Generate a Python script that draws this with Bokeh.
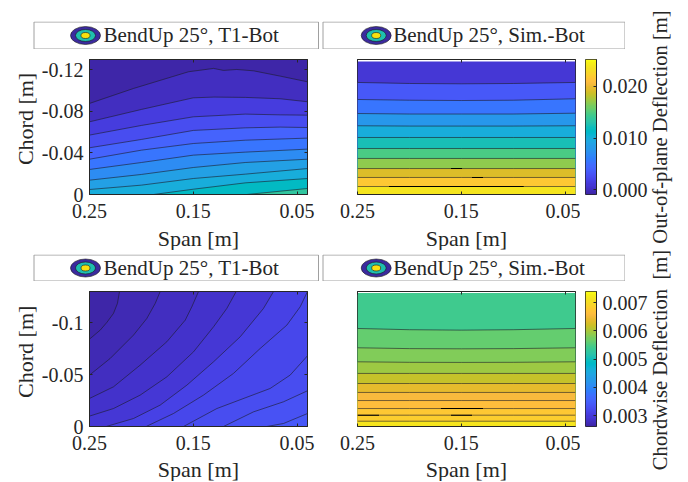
import math
import numpy as np
from bokeh.plotting import figure
from bokeh.layouts import row, column
from bokeh.models import Range1d, FixedTicker, LinearAxis, LinearColorMapper, Spacer, ColumnDataSource
from bokeh.core.properties import value
from bokeh.embed import file_html
from bokeh.resources import INLINE

PARULA_RGB = [[0.2422,0.1504,0.6603],[0.2504,0.1650,0.7076],[0.2578,0.1818,0.7511],[0.2647,0.1978,0.7952],[0.2706,0.2147,0.8364],[0.2751,0.2342,0.8710],[0.2783,0.2559,0.8991],[0.2803,0.2782,0.9221],[0.2813,0.3006,0.9414],[0.2810,0.3228,0.9579],[0.2795,0.3447,0.9717],[0.2760,0.3667,0.9829],[0.2699,0.3892,0.9906],[0.2602,0.4123,0.9952],[0.2440,0.4358,0.9988],[0.2206,0.4603,0.9973],[0.1963,0.4847,0.9892],[0.1834,0.5074,0.9798],[0.1786,0.5289,0.9682],[0.1764,0.5499,0.9520],[0.1687,0.5703,0.9359],[0.1540,0.5902,0.9218],[0.1460,0.6091,0.9079],[0.1380,0.6276,0.8973],[0.1248,0.6459,0.8883],[0.1113,0.6635,0.8763],[0.0952,0.6798,0.8598],[0.0689,0.6948,0.8394],[0.0297,0.7082,0.8163],[0.0036,0.7203,0.7917],[0.0067,0.7312,0.7660],[0.0433,0.7411,0.7394],[0.0964,0.7500,0.7120],[0.1408,0.7584,0.6842],[0.1717,0.7670,0.6554],[0.1938,0.7758,0.6251],[0.2161,0.7843,0.5923],[0.2470,0.7918,0.5567],[0.2906,0.7973,0.5188],[0.3406,0.8008,0.4789],[0.3909,0.8029,0.4354],[0.4456,0.8024,0.3909],[0.5044,0.7993,0.3480],[0.5616,0.7942,0.3045],[0.6174,0.7876,0.2612],[0.6720,0.7793,0.2227],[0.7242,0.7698,0.1910],[0.7738,0.7598,0.1646],[0.8203,0.7498,0.1535],[0.8634,0.7406,0.1596],[0.9035,0.7330,0.1774],[0.9393,0.7288,0.2100],[0.9728,0.7312,0.2394],[0.9956,0.7434,0.2371],[0.9970,0.7659,0.2199],[0.9952,0.7861,0.1994],[0.9892,0.8086,0.1816],[0.9786,0.8303,0.1653],[0.9676,0.8528,0.1500],[0.9610,0.8742,0.1344],[0.9597,0.8969,0.1186],[0.9628,0.9199,0.0971],[0.9691,0.9436,0.0759],[0.9769,0.9839,0.0805]]
PALETTE = ["#%02x%02x%02x" % tuple(int(round(c * 255)) for c in rgb) for rgb in PARULA_RGB]

SPAN_TICKS = [0.25, 0.15, 0.05]
SPAN_LABELS = ["0.25", "0.15", "0.05"]
CHORD1_TICKS = [-0.12, -0.08, -0.04, 0]
CHORD1_LABELS = ["-0.12", "-0.08", "-0.04", "0"]
CHORD2_TICKS = [-0.1, -0.05, 0]
CHORD2_LABELS = ["-0.1", "-0.05", "0"]
CB1_TICKS = [0.0, 0.01, 0.02]
CB1_LABELS = ["0.000", "0.010", "0.020"]
CB2_TICKS = [0.003, 0.004, 0.005, 0.006, 0.007]
CB2_LABELS = ["0.003", "0.004", "0.005", "0.006", "0.007"]
CB1_RANGE = (-0.0009, 0.0252)
CB2_RANGE = (0.00261, 0.0074)

# Each contour: spans, chord magnitudes
P1_LINES = [
    ([.25,.2076,.1546,.1305,.1209,.1081,.0920,.0663,.04], [.0877,.1021,.1182,.1214,.1195,.1204,.1191,.1140,.1085]),
    ([.25,.20,.15,.13,.10,.0663,.04], [.0700,.0819,.0931,.0938,.0935,.0922,.0893]),
    ([.25,.20,.15,.10,.0663,.04], [.0572,.0665,.0748,.0774,.0767,.0764]),
    ([.25,.20,.15,.10,.0663,.04], [.0450,.0530,.0617,.0642,.0649,.0645]),
    ([.25,.20,.15,.10,.04], [.0340,.0427,.0491,.0523,.0543]),
    ([.25,.20,.15,.10,.04], [.0241,.0308,.0379,.0408,.0437]),
    ([.25,.20,.15,.10,.04], [.0138,.0193,.0260,.0308,.0340]),
    ([.25,.20,.15,.10,.04], [.0048,.0090,.0154,.0196,.0250]),
    ([.1883,.15,.10,.04], [0,.0051,.0112,.0154]),
    ([.0984,.04], [0,.0058]),
]
P1_LEVELS = [-0.0008,0.0002,0.0014,0.0026,0.0041,0.0056,0.0069,0.0085,0.0101,0.0116,0.0135]

P2_SPANS = [.25,.20,.15,.10,.04]
P2_LINES = [
    (P2_SPANS, [.1079,.1069,.1066,.1069,.1079]),
    (P2_SPANS, [.0915,.0908,.0905,.0908,.0922]),
    (P2_SPANS, [.0780,.0775,.0775,.0775,.0783]),
    (P2_SPANS, [.0662,.0659,.0659,.0659,.0662]),
    (P2_SPANS, [.0549,.0549,.0549,.0549,.0549]),
    (P2_SPANS, [.0443,.0443,.0443,.0443,.0443]),
    (P2_SPANS, [.0347,.0347,.0347,.0347,.0347]),
    (P2_SPANS, [.0250,.0250,.0250,.0250,.0250]),
    (P2_SPANS, [.0164,.0164,.0164,.0164,.0164]),
    (P2_SPANS, [.0077,.0077,.0077,.0077,.0077]),
]
P2_LEVELS = [0.0009,0.0032,0.0055,0.0078,0.0101,0.0124,0.0147,0.0170,0.0193,0.0216,0.0239]
P2_TOP = .1281
P2_SEG = ([.1599,.1397,.2197], [.1493,.1291,.0899], [.0250,.0164,.0077])

P3_LINES = [
    ([.25,.2397,.2333,.2269,.2231,.2211], [.0841,.0928,.1002,.1089,.1185,.13]),
    ([.25,.2301,.2076,.1948,.1867,.1819], [.0495,.0655,.0880,.1040,.1185,.13]),
    ([.25,.2269,.2012,.1755,.1578,.1514,.1450], [.0270,.0382,.0591,.0816,.1024,.1153,.13]),
    ([.25,.2269,.2012,.1755,.1498,.1305,.1177,.1087], [.0100,.0173,.0302,.0478,.0719,.0960,.1137,.13]),
    ([.2339,.2076,.1819,.1562,.1305,.1048,.0824,.0727], [0,.0077,.0206,.0398,.0623,.0864,.1137,.13]),
    ([.1954,.1691,.1402,.1113,.0856,.0599,.0470,.04], [0,.0125,.0302,.0511,.0751,.0976,.1153,.13]),
    ([.1594,.1273,.0888,.0760,.0567,.04], [0,.0173,.0318,.0366,.0495,.0681]),
    ([.1209,.0920,.0631,.04], [0,.0141,.0238,.0344]),
    ([.0792,.0631,.04], [0,.0029,.0125]),
]
P3_LEVELS = [0.00266,0.00274,0.00282,0.00290,0.00298,0.00306,0.00314,0.00322,0.00330,0.00338]

P4_LINES = [
    (P2_SPANS, [.0944,.0932,.0928,.0932,.0944]),
    (P2_SPANS, [.0758,.0750,.0748,.0750,.0758]),
    (P2_SPANS, [.0623,.0618,.0617,.0618,.0623]),
    (P2_SPANS, [.0511,.0511,.0511,.0511,.0511]),
    (P2_SPANS, [.0414,.0414,.0414,.0414,.0414]),
    (P2_SPANS, [.0328,.0328,.0328,.0328,.0328]),
    (P2_SPANS, [.0250,.0250,.0250,.0250,.0250]),
    (P2_SPANS, [.0173,.0173,.0173,.0173,.0173]),
    (P2_SPANS, [.0109,.0109,.0109,.0109,.0109]),
    (P2_SPANS, [.0051,.0051,.0051,.0051,.0051]),
]
P4_LEVELS = [0.00542,0.00565,0.00580,0.00596,0.00620,0.00637,0.00656,0.00663,0.00680,0.00687,0.00714]
P4_TOP = .1285
P4_SEG = ([.1696,.25,.1599], [.1291,.2293,.1397], [.0173,.0109,.0109])

LEGEND_T1 = "BendUp 25°, T1-Bot"
LEGEND_SIM = "BendUp 25°, Sim.-Bot"
SPAN_TITLE = "Span [m]"
CHORD_TITLE = "Chord [m]"
CB1_TITLE = "Out-of-plane Deflection [m]"
CB2_TITLE = "Chordwise Deflection\u00a0\u2009[m]"

FONT = "Liberation Serif"
INK = "#262626"
XR = (0.25, 0.04)
CHORD_TOP = 0.13
BOTTOM = 32


def style_axis(ax, ticks, labels, size="20px"):
    ax.ticker = FixedTicker(ticks=ticks)
    ax.major_label_overrides = dict(zip(ticks, labels))
    ax.major_tick_in = 3
    ax.major_tick_out = 0
    ax.minor_tick_in = 0
    ax.minor_tick_out = 0
    ax.major_tick_line_color = INK
    ax.axis_line_color = INK
    ax.major_label_text_font = FONT
    ax.major_label_text_font_size = size
    ax.major_label_text_color = INK


def ghost_axis(p, side, ticks):
    ax = LinearAxis(ticker=FixedTicker(ticks=ticks), major_label_text_font_size="0px",
                    major_label_standoff=0, major_tick_in=3, major_tick_out=0,
                    minor_tick_in=0, minor_tick_out=0, major_tick_line_color=INK,
                    axis_line_color=INK, major_label_overrides={t: "" for t in ticks})
    p.add_layout(ax, side)


def panel(lines, levels, cb_range, width, left, right, ticks=None, labels=None,
          top_band=None, segs=None):
    p = figure(width=width, height=10 + 135 + BOTTOM, frame_width=218, frame_height=135,
               x_range=Range1d(*XR), y_range=Range1d(0, -CHORD_TOP),
               toolbar_location=None, output_backend="svg",
               min_border_left=left, min_border_right=right, min_border_top=10,
               min_border_bottom=BOTTOM, background_fill_color="white")
    p.grid.visible = False
    p.outline_line_color = INK
    mapper = LinearColorMapper(palette=PALETTE, low=cb_range[0], high=cb_range[1])
    top = CHORD_TOP if top_band is None else top_band
    xs = [[XR[0], XR[1], XR[1], XR[0]]]
    ys = [[-top, -top, 0, 0]]
    for sx, sy in lines:
        xs.append(list(sx) + [XR[1], XR[1], sx[0]])
        ys.append([-v for v in sy] + [-sy[-1], 0, 0])
    source = ColumnDataSource({"xs": xs, "ys": ys, "v": levels})
    p.patches("xs", "ys", fill_color={"field": "v", "transform": mapper}, line_color=None, source=source)
    p.multi_line([list(l[0]) for l in lines], [[-v for v in l[1]] for l in lines],
                 line_color="#1c1c28", line_width=0.8, line_alpha=0.75)
    if segs:
        p.segment(segs[0], [-v for v in segs[2]], segs[1], [-v for v in segs[2]],
                  line_color="black", line_width=1.1)
    style_axis(p.xaxis[0], SPAN_TICKS, SPAN_LABELS)
    p.xaxis[0].major_label_standoff = 9
    ghost_axis(p, "above", SPAN_TICKS)
    if ticks is not None:
        style_axis(p.yaxis[0], ticks, labels)
        p.yaxis[0].major_label_standoff = 6
        ghost_axis(p, "right", ticks)
    else:
        p.yaxis.visible = False
    return p


def colorbar(cb_range, ticks, labels):
    p = figure(width=70, height=10 + 135 + BOTTOM, frame_width=11, frame_height=135,
               x_range=Range1d(0, 1), y_range=Range1d(*cb_range), y_axis_location="right",
               toolbar_location=None, output_backend="svg",
               min_border_left=5, min_border_right=54, min_border_top=10, min_border_bottom=BOTTOM)
    p.grid.visible = False
    p.xaxis.visible = False
    p.outline_line_color = INK
    mapper = LinearColorMapper(palette=PALETTE, low=cb_range[0], high=cb_range[1])
    ramp = np.linspace(cb_range[0], cb_range[1], 256).reshape(-1, 1)
    p.image(image=[ramp], x=0, y=cb_range[0], dw=1, dh=cb_range[1] - cb_range[0], color_mapper=mapper)
    style_axis(p.yaxis[0], ticks, labels)
    p.yaxis[0].major_label_standoff = 6
    return p


def legend_strip(height):
    W = 617
    p = figure(width=W, height=height, x_range=Range1d(0, W), y_range=Range1d(0, height),
               toolbar_location=None, output_backend="svg",
               min_border=0, outline_line_color=None)
    p.axis.visible = False
    p.grid.visible = False
    mid = height / 2
    p.quad(left=[25.5, 314.5], right=[310, 616.5], bottom=[0.5, 0.5], top=[height - 0.5, height - 0.5],
           fill_color="white", line_color="#a0a0a0", line_width=1)
    for cx, tx, label in ((77, 95, LEGEND_T1), (367.7, 384.7, LEGEND_SIM)):
        for w, h, color in ((30, 18, "#3b2a9e"), (20, 12, "#1fbfae"), (9, 6, "#f8e010")):
            p.ellipse(x=[cx], y=[mid], width=[w], height=[h], fill_color=color,
                      line_color="#1a1a1a", line_width=0.6)
        p.text(x=[tx], y=[mid + 0.5], text=[label], text_font=value(FONT), text_font_size="21px",
               text_color=INK, text_baseline="middle", text_align="left")
    return p


def text_strip(text, width, height, x, from_top, angle=0.0, size="22px"):
    p = figure(width=width, height=height, x_range=Range1d(0, width), y_range=Range1d(0, height),
               toolbar_location=None, output_backend="svg", min_border=0, outline_line_color=None)
    p.axis.visible = False
    p.grid.visible = False
    p.text(x=[x], y=[height - from_top], text=[text], angle=angle,
           text_font=value(FONT), text_font_size=size, text_color=INK,
           text_align="center", text_baseline="middle")
    return p


def block(panel_a, panel_b, bar, top_gap, legend_h, xstrip_h, xlabel_from_top, ylabel_from_top,
          title, title_from_top):
    total = top_gap + legend_h + 10 + 135 + BOTTOM + xstrip_h
    ylabel = text_strip(CHORD_TITLE, 30, 10 + 135 + BOTTOM, 17, ylabel_from_top, math.pi / 2)
    left = column(
        Spacer(width=10, height=top_gap),
        legend_strip(legend_h),
        row(ylabel, panel_a, panel_b, bar, spacing=0),
        row(text_strip(SPAN_TITLE, 314, xstrip_h, 190, xlabel_from_top),
            text_strip(SPAN_TITLE, 258, xstrip_h, 144, xlabel_from_top), spacing=0),
        spacing=0)
    return row(left, text_strip(title, 30, total, 9.5, title_from_top, math.pi / 2, "20.6px"), spacing=0)


p1 = panel(P1_LINES, P1_LEVELS, CB1_RANGE, 284, 51, 15, CHORD1_TICKS, CHORD1_LABELS)
p2 = panel(P2_LINES, P2_LEVELS, CB1_RANGE, 258, 35, 5, top_band=P2_TOP, segs=P2_SEG)
c1 = colorbar(CB1_RANGE, CB1_TICKS, CB1_LABELS)

p3 = panel(P3_LINES, P3_LEVELS, CB2_RANGE, 284, 51, 15, CHORD2_TICKS, CHORD2_LABELS)
p4 = panel(P4_LINES, P4_LEVELS, CB2_RANGE, 258, 35, 5, top_band=P4_TOP, segs=P4_SEG)
c2 = colorbar(CB2_RANGE, CB2_TICKS, CB2_LABELS)

block1 = block(p1, p2, c1, 13, 28, 24, 12, 78, CB1_TITLE, 118.5)
block2 = block(p3, p4, c2, 4, 27, 23, 11, 79, CB2_TITLE, 109.5)
page = row(Spacer(width=8, height=8),
           column(Spacer(width=8, height=8), block1, block2, spacing=0), spacing=0)

open("out.html", "w").write(file_html(page, INLINE))
